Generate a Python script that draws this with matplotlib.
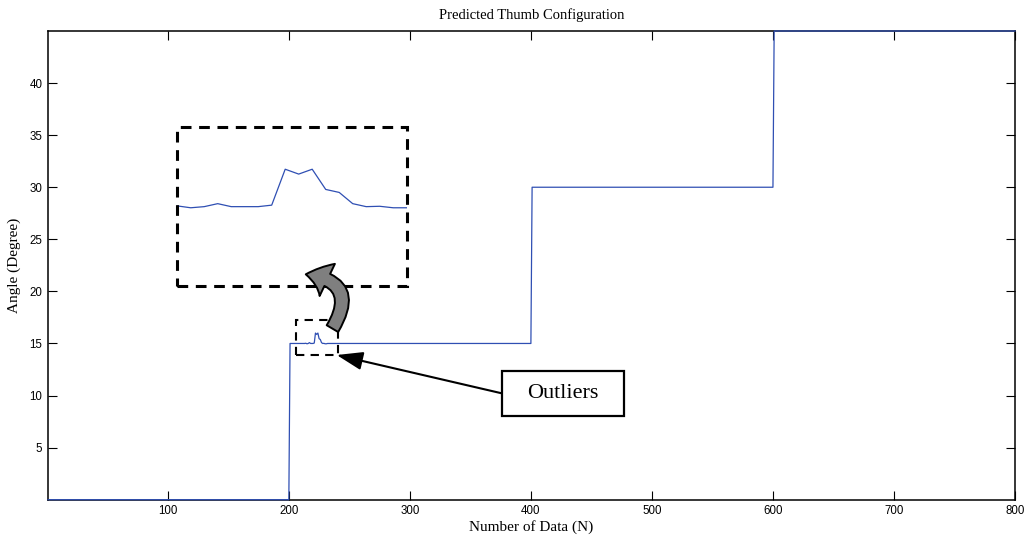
import numpy as np
import matplotlib
matplotlib.use("Agg")
import matplotlib.pyplot as plt
from matplotlib.patches import Rectangle, FancyArrowPatch

# ---- data ----
n_points = 800
segment_starts = [1, 201, 401, 601]
segment_levels = [0.0, 15.0, 30.0, 45.0]
outlier_start = 214
outlier_values = [15.02, 14.97, 15.00, 15.08, 15.00, 15.00, 15.00, 15.04, 16.00,
                  15.87, 16.00, 15.46, 15.38, 15.08, 15.00, 15.01, 14.97, 14.97]
x_ticks = [100, 200, 300, 400, 500, 600, 700, 800]
y_ticks = [5, 10, 15, 20, 25, 30, 35, 40]

x = np.arange(1, n_points + 1)
y = np.zeros(n_points)
for s, lv in zip(segment_starts, segment_levels):
    y[x >= s] = lv
oi = np.arange(outlier_start, outlier_start + len(outlier_values))
y[oi - 1] = outlier_values

serif = ["Liberation Serif", "DejaVu Serif"]
sans = ["Liberation Sans", "DejaVu Sans"]
blue = "#2f4fb3"

fig = plt.figure(figsize=(10.29, 5.40), dpi=100)
ax = fig.add_axes([48/1029, 1-499.7/540, (1015-48)/1029, (499.7-31)/540])
ax.plot(x, y, color=blue, lw=0.9, zorder=5, clip_on=False)
ax.set_xlim(1, 800)
ax.set_ylim(0, 45)
ax.set_xticks(x_ticks)
ax.set_yticks(y_ticks)
ax.tick_params(direction="in", length=6.5, width=0.8, top=True, right=True,
               labelsize=8.3, pad=4)
for lab in ax.get_xticklabels() + ax.get_yticklabels():
    lab.set_family(sans)
for sp in ax.spines.values():
    sp.set_linewidth(1.1)
ax.set_title("Predicted Thumb Configuration", family=serif, fontsize=10.5, pad=9)
ax.set_xlabel("Number of Data (N)", family=serif, fontsize=11, labelpad=2)
ax.set_ylabel("Angle (Degree)", family=serif, fontsize=11, labelpad=6)

# small dashed box around outliers (data coords)
ax.add_patch(Rectangle((206, 13.87), 240.7 - 206, 17.23 - 13.87, fill=False,
                       ls=(0, (4, 3)), lw=1.5, ec="black", zorder=6))

# magnified inset
W, H = 1029, 540
box_l, box_r, box_t, box_b = 176.7, 406.7, 127.3, 286.0
fig.add_artist(Rectangle((box_l/W, 1-box_b/H), (box_r-box_l)/W, (box_b-box_t)/H,
                         transform=fig.transFigure, fill=False, ls=(0, (3.5, 2.5)),
                         lw=2.2, ec="black", zorder=10))
iax = fig.add_axes([(box_l+0.5)/W, 1-box_b/H, (box_r-box_l-0.5)/W, (box_b-box_t)/H])
iax.plot(oi, outlier_values, color=blue, lw=0.9)
iax.set_xlim(oi[0], oi[-1])
iax.set_ylim(12.88, 17.12)
iax.axis("off")

# curved gray arrow (figure pixel coords -> figure fraction)
def fp(px, py):
    return (px / W, 1 - py / H)

carrow = FancyArrowPatch(fp(331, 331), fp(303, 274), transform=fig.transFigure,
                         connectionstyle="arc3,rad=0.8",
                         arrowstyle="simple,head_width=1.6,head_length=1.0,tail_width=0.6",
                         mutation_scale=16, fc="#7f7f7f", ec="black", lw=1.4, zorder=11)
fig.add_artist(carrow)

# "Outliers" label box with arrow
fig.add_artist(Rectangle(fp(501.7, 416), (624-501.7)/W, (416-371)/H,
                         transform=fig.transFigure, fill=True, fc="white",
                         ec="black", lw=1.6, zorder=11))
fig.text((501.7+624)/2/W, 1-394/H, "Outliers", family=serif, fontsize=16,
         ha="center", va="center", zorder=12)
sarrow = FancyArrowPatch(fp(501.7, 393.3), fp(336.7, 355), transform=fig.transFigure,
                         arrowstyle="-|>,head_width=0.35,head_length=1.0",
                         mutation_scale=16, fc="black", ec="black", lw=1.5,
                         shrinkA=0, shrinkB=0, zorder=11)
fig.add_artist(sarrow)

fig.savefig("out.png", dpi=100)
